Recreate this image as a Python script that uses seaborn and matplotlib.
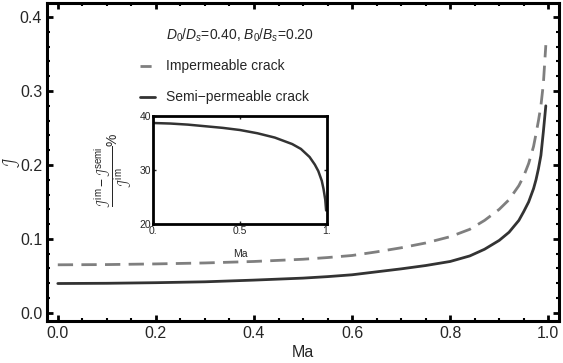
import numpy as np
import pandas as pd
import matplotlib
matplotlib.use('Agg')
import matplotlib.pyplot as plt
from matplotlib.ticker import MultipleLocator, FixedLocator
import seaborn as sns

# main curves
ma = [0, 0.1, 0.2, 0.3, 0.4, 0.5, 0.55, 0.6, 0.65, 0.7, 0.75, 0.8, 0.84, 0.87,
      0.9, 0.92, 0.94, 0.95, 0.96, 0.97, 0.975, 0.98, 0.985, 0.99, 0.995]
j_im = [0.065, 0.0653, 0.0662, 0.0675, 0.0695, 0.0725, 0.0748, 0.0776, 0.0825,
        0.088, 0.0945, 0.103, 0.113, 0.125, 0.140, 0.153, 0.172, 0.185, 0.202,
        0.225, 0.242, 0.260, 0.280, 0.310, 0.362]
j_semi = [0.0397, 0.0400, 0.0408, 0.042, 0.0443, 0.047, 0.049, 0.0515, 0.0555,
          0.0595, 0.064, 0.0695, 0.077, 0.086, 0.098, 0.109, 0.125, 0.137,
          0.150, 0.168, 0.180, 0.195, 0.213, 0.245, 0.280]

# inset: relative difference in percent
ma_in = [0, 0.1, 0.2, 0.3, 0.4, 0.5, 0.6, 0.7, 0.8, 0.85, 0.9, 0.93, 0.95,
         0.97, 0.98, 0.99, 0.995]
pct = [38.7, 38.6, 38.4, 38.1, 37.8, 37.4, 36.8, 36.0, 34.8, 33.9, 32.4, 31.0,
       29.8, 28.0, 26.5, 24.5, 22.5]

xticks = [0.0, 0.2, 0.4, 0.6, 0.8, 1.0]
yticks = [0.0, 0.1, 0.2, 0.3, 0.4]
in_xticks = [0, 0.5, 1]
in_xlabels = ['0.', '0.5', '1.']
in_yticks = [20, 30, 40]

sns.set_style('ticks')
plt.rcParams['font.family'] = ['Liberation Sans', 'DejaVu Sans']
plt.rcParams['mathtext.fontset'] = 'custom'
plt.rcParams['mathtext.rm'] = 'Liberation Sans'
plt.rcParams['mathtext.it'] = 'Liberation Sans:italic'

df = pd.DataFrame({'Ma': ma, 'im': j_im, 'semi': j_semi})
df_in = pd.DataFrame({'Ma': ma_in, 'pct': pct})

fig = plt.figure(figsize=(5.63, 3.63), dpi=100)
ax = fig.add_axes([0.0835, 0.1157, 0.9095, 0.876])

sns.lineplot(data=df, x='Ma', y='im', ax=ax, color='#7f7f7f', lw=2.0,
             linestyle=(0, (5.5, 3)))
sns.lineplot(data=df, x='Ma', y='semi', ax=ax, color='#333333', lw=2.0)

ax.set_xlim(-0.022, 1.022)
ax.set_ylim(-0.011, 0.419)
ax.set_xticks(xticks)
ax.set_xticklabels(['%.1f' % t for t in xticks])
ax.set_yticks(yticks)
ax.set_yticklabels(['%.1f' % t for t in yticks])
ax.xaxis.set_minor_locator(MultipleLocator(0.05))
ax.yaxis.set_minor_locator(MultipleLocator(0.02))
ax.tick_params(which='both', direction='in', top=True, right=True,
               labelsize=11.5, color='black')
ax.tick_params(which='major', length=4, width=2)
ax.tick_params(which='minor', length=2, width=1.5)
for s in ax.spines.values():
    s.set_linewidth(2.2)
    s.set_color('black')
ax.set_xlabel('Ma', fontsize=11.5, labelpad=3)
ax.set_ylabel('')
fig.text(0.021, 0.554, r'$\mathcal{J}$', fontsize=12, rotation=90,
         ha='center', va='center')

# legend-like annotation
ax.text(0.22, 0.375, r'$D_0/D_s$=0.40, $B_0/B_s$=0.20', fontsize=10,
        va='center')
ax.plot([0.167, 0.198], [0.334, 0.334], color='#7f7f7f', lw=2.0,
        linestyle=(0, (4, 2)))
ax.text(0.22, 0.334, 'Impermeable crack', fontsize=10, va='center')
ax.plot([0.167, 0.198], [0.292, 0.292], color='#333333', lw=2.0)
ax.text(0.22, 0.292, 'Semi\u2212permeable crack', fontsize=10, va='center')

# inset
axin = fig.add_axes([0.2718, 0.383, 0.309, 0.2975])
sns.lineplot(data=df_in, x='Ma', y='pct', ax=axin, color='#333333', lw=1.8)
axin.set_xlim(0, 1)
axin.set_ylim(20, 40)
axin.xaxis.set_major_locator(FixedLocator(in_xticks))
axin.set_xticklabels(in_xlabels)
axin.yaxis.set_major_locator(FixedLocator(in_yticks))
axin.tick_params(direction='in', top=True, right=True, labelsize=7.5,
                 length=2, width=1, pad=1.5)
for s in axin.spines.values():
    s.set_linewidth(2)
    s.set_color('black')
axin.set_xlabel('Ma', fontsize=7.5, labelpad=9)
axin.set_ylabel('')
fig.text(0.2007, 0.532,
         r'$\dfrac{\mathcal{J}^{\rm im}-\mathcal{J}^{\rm semi}}{\mathcal{J}^{\rm im}}$%',
         fontsize=10, rotation=90, ha='center', va='center')

fig.savefig('out.png', dpi=100)
